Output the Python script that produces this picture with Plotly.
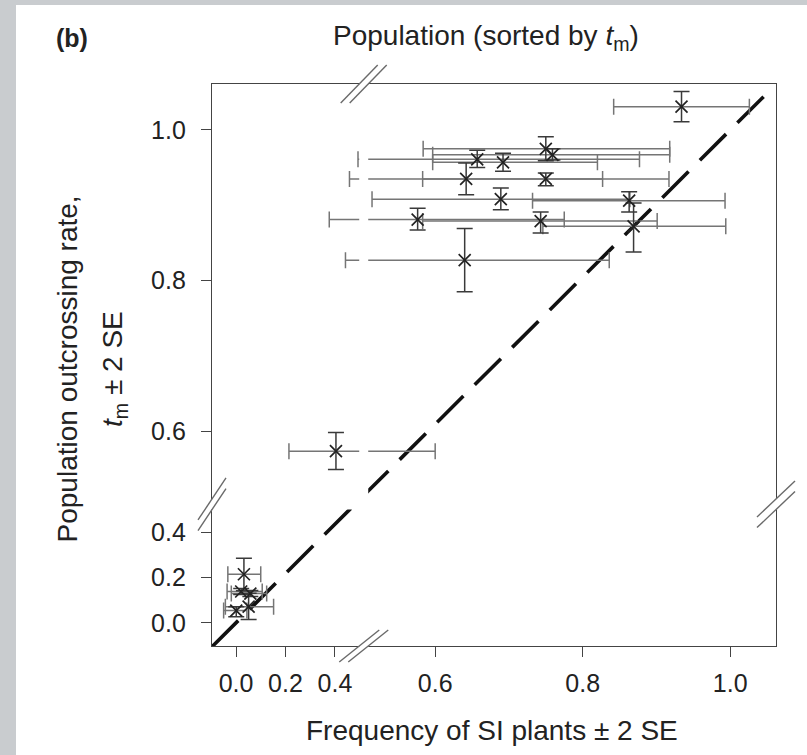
import plotly.graph_objects as go

# ---------------- data ----------------
si_freq = [0.934, 0.750, 0.759, 0.657, 0.692, 0.642, 0.750, 0.689, 0.863, 0.565,
           0.743, 0.869, 0.640, 0.402, 0.032, 0.021, 0.058, 0.001, 0.051]
si_lo = [0.842, 0.576, 0.595, 0.446, 0.595, 0.429, 0.575, 0.474, 0.732, 0.377,
         0.575, 0.746, 0.421, 0.214, -0.033, -0.036, -0.019, -0.050, -0.043]
si_hi = [1.026, 0.918, 0.918, 0.877, 0.820, 0.827, 0.917, 0.864, 0.993, 0.775,
         0.901, 0.994, 0.836, 0.600, 0.100, 0.106, 0.124, 0.044, 0.152]
tm = [1.031, 0.975, 0.967, 0.961, 0.957, 0.935, 0.935, 0.908, 0.906, 0.881,
      0.879, 0.872, 0.827, 0.560, 0.214, 0.138, 0.129, 0.054, 0.071]
tm_lo = [1.011, 0.959, 0.960, 0.950, 0.945, 0.914, 0.926, 0.894, 0.891, 0.867,
         0.863, 0.838, 0.785, 0.524, 0.141, 0.125, 0.116, 0.027, 0.015]
tm_hi = [1.051, 0.991, 0.975, 0.973, 0.969, 0.956, 0.943, 0.923, 0.918, 0.896,
         0.891, 0.903, 0.869, 0.597, 0.284, 0.151, 0.142, 0.071, 0.130]

tick_values = [0.0, 0.2, 0.4, 0.6, 0.8, 1.0]
tick_labels = ["0.0", "0.2", "0.4", "0.6", "0.8", "1.0"]
one_to_one = [0.0, 1.0]

# ---------------- broken-axis scale ----------------
LOW_MAX, HIGH_MIN = 0.4, 0.6


def make_scale(low_scale, gap_scale):
    gap_u = (HIGH_MIN - LOW_MAX) * gap_scale
    u_low_max = HIGH_MIN - gap_u

    def f(v):
        if v >= HIGH_MIN:
            return v
        if v >= LOW_MAX:
            return u_low_max + (v - LOW_MAX) * gap_scale
        return u_low_max - (LOW_MAX - v) * low_scale
    return f


tx = make_scale(0.3354, 0.6795)
ty = make_scale(0.3017, 0.6711)

X_RANGE = [0.2974, 1.0621]
Y_RANGE = [0.3143, 1.0611]

ux = [tx(v) for v in si_freq]
uy = [ty(v) for v in tm]
ex_plus = [tx(h) - tx(v) for v, h in zip(si_freq, si_hi)]
ex_minus = [tx(v) - tx(l) for v, l in zip(si_freq, si_lo)]
ey_plus = [ty(h) - ty(v) for v, h in zip(tm, tm_hi)]
ey_minus = [ty(v) - ty(l) for v, l in zip(tm, tm_lo)]

FONT = "Liberation Sans, Arial, sans-serif"
TXT = "#222222"
AX = "#444444"

fig = go.Figure()

# 1:1 reference line (straight between (0,0) and (1,1) on the drawn scale)
ax0, ay0 = tx(one_to_one[0]), ty(one_to_one[0])
ax1, ay1 = tx(one_to_one[1]), ty(one_to_one[1])
t_start = (X_RANGE[0] - ax0) / (ax1 - ax0)
t_end = 1.0724
fig.add_trace(go.Scatter(
    x=[ax0 + t * (ax1 - ax0) for t in (t_start, t_end)],
    y=[ay0 + t * (ay1 - ay0) for t in (t_start, t_end)],
    mode="lines", line=dict(color="#111111", width=3.6, dash="37px,16px"),
    hoverinfo="skip", showlegend=False))

# horizontal error bars (grey)
fig.add_trace(go.Scatter(
    x=ux, y=uy, mode="markers", marker=dict(size=1, color="rgba(0,0,0,0)"),
    error_x=dict(type="data", symmetric=False, array=ex_plus, arrayminus=ex_minus,
                 color="#757575", thickness=1.5, width=8),
    showlegend=False, hoverinfo="skip"))

# vertical error bars + markers
fig.add_trace(go.Scatter(
    x=ux, y=uy, mode="markers",
    marker=dict(symbol="x-thin-open", size=12, color="#222222",
                line=dict(width=1.7, color="#222222")),
    error_y=dict(type="data", symmetric=False, array=ey_plus, arrayminus=ey_minus,
                 color="#3a3a3a", thickness=1.5, width=8),
    showlegend=False))

shapes = []
# grey page border
shapes.append(dict(type="rect", xref="paper", yref="paper", x0=-0.40, x1=-0.3475,
                   y0=-0.25, y1=1.20, fillcolor="#c9cccf", line=dict(width=0), layer="below"))
shapes.append(dict(type="rect", xref="paper", yref="paper", x0=-0.40, x1=1.10,
                   y0=1.1406, y1=1.20, fillcolor="#c9cccf", line=dict(width=0), layer="below"))

# axis-break white bands
XB = tx(0.4574)
YB = ty(0.4549)
shapes.append(dict(type="rect", xref="x", yref="paper", xsizemode="pixel", xanchor=XB,
                   x0=-4.5, x1=4.5, y0=-0.006, y1=1.006, fillcolor="white",
                   line=dict(width=0), layer="above"))
shapes.append(dict(type="rect", xref="paper", yref="y", ysizemode="pixel", yanchor=YB,
                   y0=-5.3, y1=5.3, x0=-0.006, x1=1.006, fillcolor="white",
                   line=dict(width=0), layer="above"))

SL = dict(color="#6a6a6a", width=1.4)
# slashes on top/bottom for x break
for off in (-4.5, 4.5):
    shapes.append(dict(type="line", xref="x", yref="paper", xsizemode="pixel",
                       ysizemode="pixel", xanchor=XB, yanchor=1,
                       x0=off - 18.5, x1=off + 18.5, y0=-19, y1=19, line=SL, layer="above"))
    shapes.append(dict(type="line", xref="x", yref="paper", xsizemode="pixel",
                       ysizemode="pixel", xanchor=XB, yanchor=0,
                       x0=off - 20, x1=off + 20, y0=-16, y1=16, line=SL, layer="above"))
# slashes on left/right for y break
for off in (-5.3, 5.3):
    shapes.append(dict(type="line", xref="paper", yref="y", xsizemode="pixel",
                       ysizemode="pixel", xanchor=0, yanchor=YB,
                       x0=-14, x1=14, y0=off - 21, y1=off + 21, line=SL, layer="above"))
    shapes.append(dict(type="line", xref="paper", yref="y", xsizemode="pixel",
                       ysizemode="pixel", xanchor=1, yanchor=YB,
                       x0=-19, x1=19, y0=off - 18, y1=off + 18, line=SL, layer="above"))

annotations = [
    dict(text="<b>(b)</b>", xref="paper", yref="paper", x=-0.2482, y=1.0819,
         showarrow=False, xanchor="center", yanchor="middle",
         font=dict(size=25, family=FONT, color=TXT)),
    dict(text="Population (sorted by <i>t</i><sub>m</sub>)", xref="paper", yref="paper",
         x=0.4867, y=1.0836, showarrow=False, xanchor="center", yanchor="middle",
         font=dict(size=28, family=FONT, color=TXT)),
    dict(text="Population outcrossing rate,", xref="paper", yref="paper",
         x=-0.2571, y=0.4938, showarrow=False, textangle=-90,
         xanchor="center", yanchor="middle", font=dict(size=28, family=FONT, color=TXT)),
    dict(text="<i>t</i><sub>m</sub> ± 2 SE", xref="paper", yref="paper",
         x=-0.172, y=0.4929, showarrow=False, textangle=-90,
         xanchor="center", yanchor="middle", font=dict(size=28, family=FONT, color=TXT)),
    dict(text="Frequency of SI plants ± 2 SE", xref="paper", yref="paper",
         x=0.4965, y=-0.1495, showarrow=False, xanchor="center", yanchor="middle",
         font=dict(size=28, family=FONT, color=TXT)),
]

axis_common = dict(showgrid=False, zeroline=False, showline=True, mirror=True,
                   linecolor=AX, linewidth=1.3, ticks="outside", ticklen=10,
                   tickwidth=1.3, tickcolor=AX,
                   tickfont=dict(size=25, family=FONT, color=TXT))

fig.update_layout(
    width=807, height=755,
    margin=dict(l=212, r=31, t=84, b=109),
    paper_bgcolor="white", plot_bgcolor="white",
    xaxis=dict(range=X_RANGE, tickvals=[tx(v) for v in tick_values],
               ticktext=tick_labels, ticklabelstandoff=5, **axis_common),
    yaxis=dict(range=Y_RANGE, tickvals=[ty(v) for v in tick_values],
               ticktext=tick_labels, ticklabelstandoff=10, **axis_common),
    shapes=shapes, annotations=annotations, showlegend=False,
)

fig.write_html("out.html")
